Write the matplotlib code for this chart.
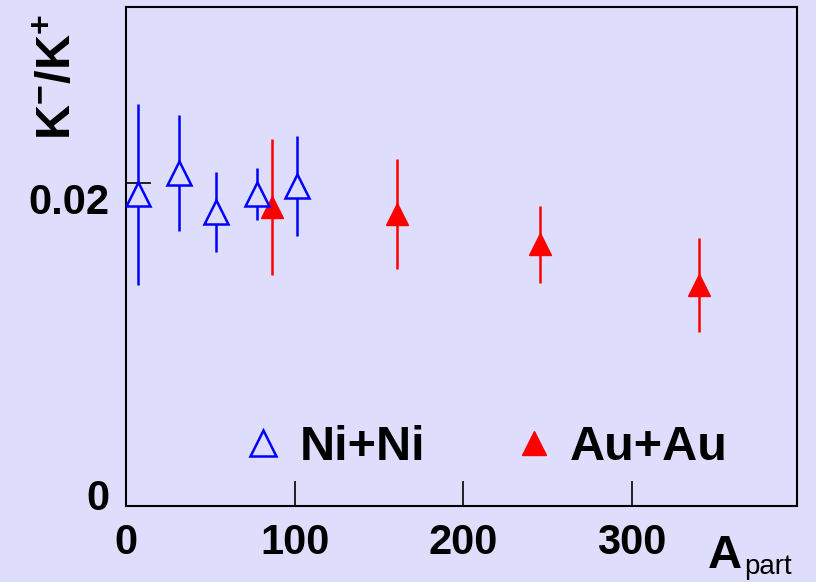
import matplotlib
matplotlib.use('Agg')
from matplotlib import pyplot as plt
from matplotlib.lines import Line2D
import matplotlib.transforms as mtrans

# K-/K+ ratio vs number of participants
ni_apart = [7, 31.5, 53.5, 77.5, 101.5]
ni_ratio = [0.0193, 0.0206, 0.0182, 0.0193, 0.0198]
ni_err = [0.0056, 0.0036, 0.0025, 0.0016, 0.0031]

au_apart = [86.5, 161, 245.5, 340]
au_ratio = [0.0185, 0.0181, 0.0162, 0.0137]
au_err = [0.0042, 0.0034, 0.0024, 0.0029]

xticks = [0, 100, 200, 300]
yticks = [0, 0.02]
ytick_labels = ['0', '0.02']

bg = '#dedefc'
plt.rcParams['font.family'] = ['Liberation Sans', 'DejaVu Sans']
plt.rcParams['mathtext.fontset'] = 'custom'
plt.rcParams['mathtext.bf'] = 'Liberation Sans:bold'
plt.rcParams['mathtext.rm'] = 'Liberation Sans'

fig = plt.figure(figsize=(8.16, 5.82), dpi=100, facecolor=bg)
ax = fig.add_axes([126/816, 1-506/582, 671/816, 499/582], facecolor=bg)

ax.errorbar(ni_apart, ni_ratio, yerr=ni_err, fmt='^', color='blue', ms=17, mfc=bg,
            mec='blue', mew=1.8, elinewidth=1.8, capsize=0, zorder=3)
ax.errorbar(au_apart, au_ratio, yerr=au_err, fmt='^', color='red', ms=16, mfc='red',
            mec='red', elinewidth=1.8, capsize=0, zorder=2)

ax.set_xlim(0, 398)
ax.set_ylim(0, 0.0309)
ax.set_xticks(xticks)
ax.set_yticks(yticks)
ax.set_yticklabels(ytick_labels)
ax.tick_params(direction='in', length=18, width=1.2, labelsize=30, pad=12)
for lab in ax.get_xticklabels() + ax.get_yticklabels():
    lab.set_fontweight('bold')
# nudge y labels like the original
ylabs = ax.get_yticklabels()
ylabs[0].set_transform(ylabs[0].get_transform() + mtrans.ScaledTranslation(0, 11/100, fig.dpi_scale_trans))
ylabs[1].set_transform(ylabs[1].get_transform() + mtrans.ScaledTranslation(0, -15/100, fig.dpi_scale_trans))
for s in ax.spines.values():
    s.set_linewidth(1.5)

fig.text(58/816, 1-77/582, r'$\mathbf{K^{-}/K^{+}}$', rotation=90, ha='center', va='center', fontsize=35)
fig.text(708/816, 1-568/582, 'A', fontsize=34, fontweight='bold', ha='left', va='baseline')
fig.text(744/816, 1-574/582, 'part', fontsize=20, ha='left', va='baseline')

handles = [Line2D([], [], ls='none', marker='^', ms=19, mfc=bg, mec='blue', mew=1.8),
           Line2D([], [], ls='none', marker='^', ms=17, mfc='red', mec='red')]
ax.legend(handles, ['Ni+Ni', 'Au+Au'], ncol=2, loc='center', bbox_to_anchor=(0.5365, 0.118),
          frameon=False, prop={'size': 35, 'weight': 'bold'}, handlelength=0.8,
          handletextpad=0.34, columnspacing=1.85)

fig.savefig('out.png', dpi=100, facecolor=bg)
